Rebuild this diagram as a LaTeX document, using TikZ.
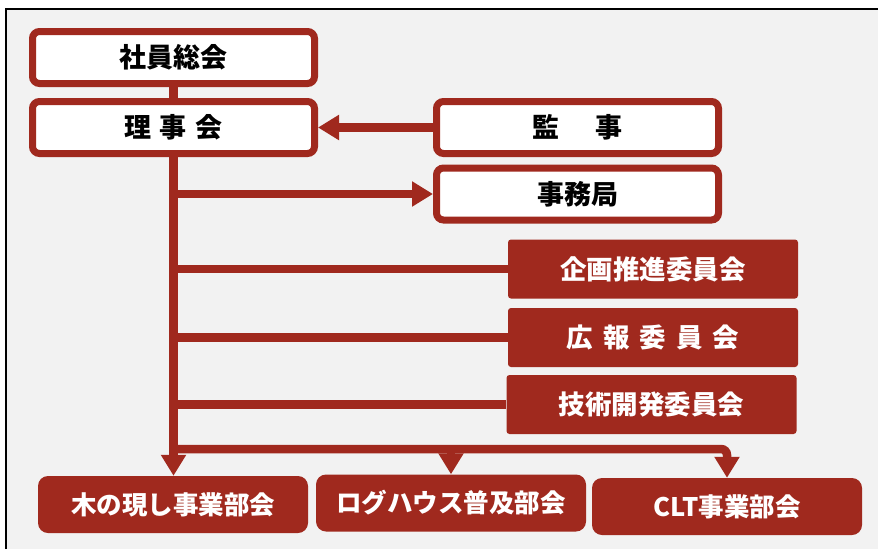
\documentclass[tikz,border=0pt]{standalone}
\usepackage{fontspec}
\newfontfamily\jp{Noto Sans CJK JP}
\usetikzlibrary{arrows.meta}
\definecolor{brick}{HTML}{A0291E}
\definecolor{bgc}{HTML}{F2F2F2}
\begin{document}
\begin{tikzpicture}[x=1pt,y=-1pt,
  wbox/.style={font=\jp\bfseries\fontsize{27}{31}\selectfont, draw=brick, line width=7pt,
    fill=white, rounded corners=7pt, minimum width=282pt, minimum height=52pt,
    inner sep=0pt, text=black},
  rbox/.style={font=\jp\bfseries\fontsize{26.5}{30}\selectfont, fill=brick,
    rounded corners=3pt, minimum width=290pt, minimum height=59pt, inner sep=0pt,
    text=white},
  bbox/.style={font=\jp\bfseries\fontsize{25.5}{30}\selectfont, fill=brick,
    rounded corners=10pt, minimum width=270pt, minimum height=57pt, inner sep=0pt,
    text=white},
  conn/.style={draw=brick, line width=8.5pt},
  arr/.style={conn, -{Triangle[length=21pt,width=24pt]}}]
\useasboundingbox (0,0) rectangle (878,549);
\fill[white] (0,0) rectangle (878,549);
\fill[bgc] (6,9) rectangle (878,549);
\draw[black, line width=2pt] (6,549) -- (6,9) -- (878,9);

\node[wbox] (gm) at (173.5,57.5) {社員総会};
\node[wbox] (rj) at (173.5,127.5) {理\hspace{9pt}事\hspace{9pt}会};
\node[wbox] (kj) at (577.5,127.5) {監\hspace{37pt}事};
\node[wbox] (jm) at (577.5,194) {事務局};

\node[rbox] (kk) at (653,269) {企画推進委員会};
\node[rbox] (kh) at (653,337.5) {広\hspace{10pt}報\hspace{10pt}委\hspace{10pt}員\hspace{10pt}会};
\node[rbox] (gk) at (651.5,404.5) {技術開発委員会};

\node[bbox] (ki) at (173,504.5) {木の現し事業部会};
\node[bbox] (lg) at (451,503) {ログハウス普及部会};
\node[bbox] (clt) at (727,506.5) {CLT事業部会};

\coordinate (hl) at (173.5,449);

\draw[conn] (gm.south) -- (rj.north);
\draw[arr] (kj.west) -- (rj.east);
\draw[arr] (rj.south) -- (rj.south |- ki.north);
\draw[arr] (rj.south |- jm.west) -- (jm.west);
\draw[conn] (rj.south |- kk.west) -- (kk.west);
\draw[conn] (rj.south |- kh.west) -- (kh.west);
\draw[conn] (rj.south |- gk.west) -- (gk.west);
\draw[arr, rounded corners=6pt] (hl) -- (clt.north |- hl) -- (clt.north);
\draw[arr] (lg.north |- hl) -- (lg.north);
\end{tikzpicture}
\end{document}
